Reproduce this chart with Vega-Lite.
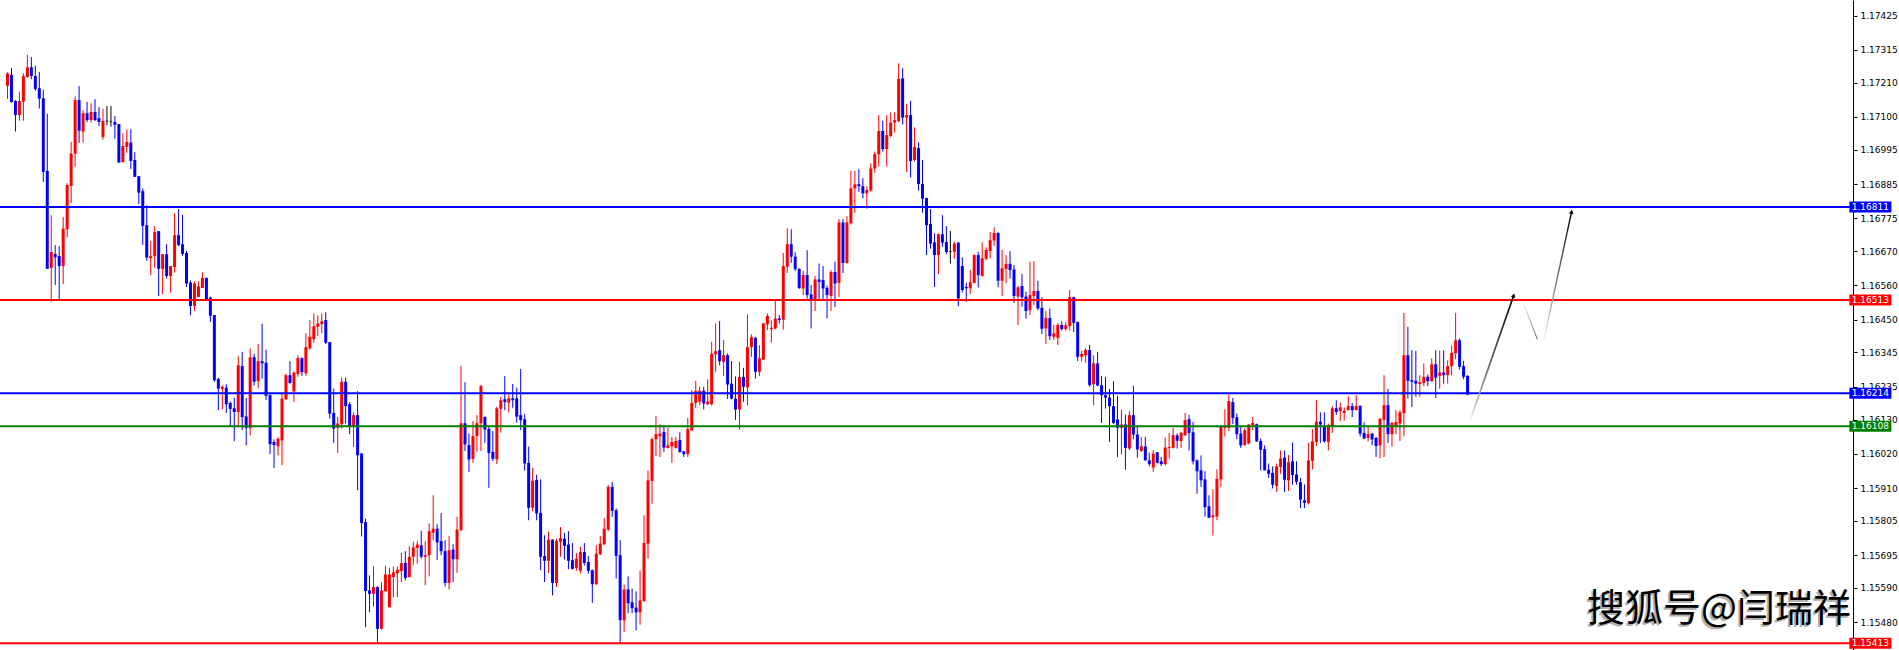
{
  "$schema": "https://vega.github.io/schema/vega-lite/v6.json",
  "width": 1853,
  "height": 650,
  "autosize": {"type": "none"},
  "padding": {"left": 0, "right": 46, "top": 0, "bottom": 0},
  "background": "#ffffff",
  "config": {"view": {"stroke": null}},
  "resolve": {"axis": {"y": "independent", "x": "independent"}},
  "datasets": {
    "candles": [
      {"k":0,"o":1.17200,"h":1.17243,"l":1.17158,"c":1.17240},
      {"k":1,"o":1.17235,"h":1.17257,"l":1.17146,"c":1.17148},
      {"k":2,"o":1.17151,"h":1.17154,"l":1.17053,"c":1.17106},
      {"k":3,"o":1.17106,"h":1.17181,"l":1.17088,"c":1.17151},
      {"k":4,"o":1.17149,"h":1.17240,"l":1.17088,"c":1.17231},
      {"k":5,"o":1.17228,"h":1.17299,"l":1.17226,"c":1.17259},
      {"k":6,"o":1.17259,"h":1.17292,"l":1.17221,"c":1.17231},
      {"k":7,"o":1.17231,"h":1.17264,"l":1.17184,"c":1.17190},
      {"k":8,"o":1.17192,"h":1.17244,"l":1.17127,"c":1.17159},
      {"k":9,"o":1.17160,"h":1.17187,"l":1.16892,"c":1.16924},
      {"k":10,"o":1.16927,"h":1.17110,"l":1.16613,"c":1.16613},
      {"k":11,"o":1.16616,"h":1.16785,"l":1.16507,"c":1.16667},
      {"k":12,"o":1.16660,"h":1.16689,"l":1.16561,"c":1.16650},
      {"k":13,"o":1.16654,"h":1.16686,"l":1.16515,"c":1.16622},
      {"k":14,"o":1.16622,"h":1.16779,"l":1.16564,"c":1.16742},
      {"k":15,"o":1.16740,"h":1.16888,"l":1.16714,"c":1.16882},
      {"k":16,"o":1.16879,"h":1.17020,"l":1.16824,"c":1.16983},
      {"k":17,"o":1.16982,"h":1.17166,"l":1.16940,"c":1.17154},
      {"k":18,"o":1.17154,"h":1.17199,"l":1.17017,"c":1.17056},
      {"k":19,"o":1.17053,"h":1.17122,"l":1.17017,"c":1.17112},
      {"k":20,"o":1.17112,"h":1.17148,"l":1.17084,"c":1.17090},
      {"k":21,"o":1.17090,"h":1.17144,"l":1.17082,"c":1.17116},
      {"k":22,"o":1.17116,"h":1.17157,"l":1.17087,"c":1.17090},
      {"k":23,"o":1.17096,"h":1.17132,"l":1.17071,"c":1.17084},
      {"k":24,"o":1.17036,"h":1.17126,"l":1.17027,"c":1.17087},
      {"k":25,"o":1.17088,"h":1.17135,"l":1.17073,"c":1.17086,"doji":true},
      {"k":26,"o":1.17087,"h":1.17135,"l":1.17069,"c":1.17085,"doji":true},
      {"k":27,"o":1.17084,"h":1.17103,"l":1.17030,"c":1.17075},
      {"k":28,"o":1.17077,"h":1.17077,"l":1.16952,"c":1.16954},
      {"k":29,"o":1.16955,"h":1.17048,"l":1.16955,"c":1.17007},
      {"k":30,"o":1.17004,"h":1.17060,"l":1.16985,"c":1.17020},
      {"k":31,"o":1.17018,"h":1.17061,"l":1.16933,"c":1.16959},
      {"k":32,"o":1.16962,"h":1.16987,"l":1.16908,"c":1.16908},
      {"k":33,"o":1.16910,"h":1.16910,"l":1.16821,"c":1.16857},
      {"k":34,"o":1.16862,"h":1.16871,"l":1.16690,"c":1.16751},
      {"k":35,"o":1.16753,"h":1.16817,"l":1.16639,"c":1.16649},
      {"k":36,"o":1.16647,"h":1.16702,"l":1.16593,"c":1.16654},
      {"k":37,"o":1.16654,"h":1.16750,"l":1.16616,"c":1.16731},
      {"k":38,"o":1.16734,"h":1.16734,"l":1.16526,"c":1.16613},
      {"k":39,"o":1.16613,"h":1.16660,"l":1.16531,"c":1.16660},
      {"k":40,"o":1.16660,"h":1.16692,"l":1.16582,"c":1.16590},
      {"k":41,"o":1.16590,"h":1.16622,"l":1.16536,"c":1.16622},
      {"k":42,"o":1.16619,"h":1.16791,"l":1.16601,"c":1.16721},
      {"k":43,"o":1.16721,"h":1.16805,"l":1.16686,"c":1.16689},
      {"k":44,"o":1.16692,"h":1.16786,"l":1.16655,"c":1.16661},
      {"k":45,"o":1.16664,"h":1.16671,"l":1.16555,"c":1.16566},
      {"k":46,"o":1.16569,"h":1.16575,"l":1.16464,"c":1.16494},
      {"k":47,"o":1.16494,"h":1.16573,"l":1.16478,"c":1.16566},
      {"k":48,"o":1.16523,"h":1.16573,"l":1.16522,"c":1.16557},
      {"k":49,"o":1.16552,"h":1.16602,"l":1.16551,"c":1.16584},
      {"k":50,"o":1.16584,"h":1.16585,"l":1.16512,"c":1.16515},
      {"k":51,"o":1.16521,"h":1.16524,"l":1.16443,"c":1.16463},
      {"k":52,"o":1.16465,"h":1.16465,"l":1.16251,"c":1.16256},
      {"k":53,"o":1.16260,"h":1.16264,"l":1.16160,"c":1.16229},
      {"k":54,"o":1.16228,"h":1.16240,"l":1.16163,"c":1.16235},
      {"k":55,"o":1.16232,"h":1.16243,"l":1.16151,"c":1.16179},
      {"k":56,"o":1.16183,"h":1.16188,"l":1.16109,"c":1.16164},
      {"k":57,"o":1.16166,"h":1.16200,"l":1.16060,"c":1.16154},
      {"k":58,"o":1.16154,"h":1.16333,"l":1.16109,"c":1.16304},
      {"k":59,"o":1.16301,"h":1.16347,"l":1.16096,"c":1.16138},
      {"k":60,"o":1.16140,"h":1.16199,"l":1.16047,"c":1.16103},
      {"k":61,"o":1.16103,"h":1.16358,"l":1.16079,"c":1.16329},
      {"k":62,"o":1.16330,"h":1.16341,"l":1.16239,"c":1.16251},
      {"k":63,"o":1.16253,"h":1.16372,"l":1.16230,"c":1.16317},
      {"k":64,"o":1.16317,"h":1.16437,"l":1.16261,"c":1.16310},
      {"k":65,"o":1.16312,"h":1.16354,"l":1.16192,"c":1.16206},
      {"k":66,"o":1.16208,"h":1.16213,"l":1.16019,"c":1.16051},
      {"k":67,"o":1.16058,"h":1.16066,"l":1.15975,"c":1.16048},
      {"k":68,"o":1.16044,"h":1.16073,"l":1.16015,"c":1.16068},
      {"k":69,"o":1.16063,"h":1.16213,"l":1.15983,"c":1.16197},
      {"k":70,"o":1.16195,"h":1.16277,"l":1.16192,"c":1.16272},
      {"k":71,"o":1.16272,"h":1.16317,"l":1.16245,"c":1.16247},
      {"k":72,"o":1.16220,"h":1.16284,"l":1.16186,"c":1.16280},
      {"k":73,"o":1.16276,"h":1.16336,"l":1.16267,"c":1.16327},
      {"k":74,"o":1.16327,"h":1.16329,"l":1.16270,"c":1.16282},
      {"k":75,"o":1.16278,"h":1.16406,"l":1.16270,"c":1.16362},
      {"k":76,"o":1.16358,"h":1.16449,"l":1.16354,"c":1.16395},
      {"k":77,"o":1.16388,"h":1.16470,"l":1.16376,"c":1.16429},
      {"k":78,"o":1.16427,"h":1.16464,"l":1.16397,"c":1.16438},
      {"k":79,"o":1.16436,"h":1.16470,"l":1.16406,"c":1.16445},
      {"k":80,"o":1.16449,"h":1.16474,"l":1.16372,"c":1.16376},
      {"k":81,"o":1.16378,"h":1.16378,"l":1.16133,"c":1.16149},
      {"k":82,"o":1.16151,"h":1.16229,"l":1.16055,"c":1.16101},
      {"k":83,"o":1.16104,"h":1.16138,"l":1.16023,"c":1.16117},
      {"k":84,"o":1.16115,"h":1.16265,"l":1.16101,"c":1.16251},
      {"k":85,"o":1.16251,"h":1.16265,"l":1.16117,"c":1.16173},
      {"k":86,"o":1.16179,"h":1.16186,"l":1.16083,"c":1.16108},
      {"k":87,"o":1.16106,"h":1.16153,"l":1.16042,"c":1.16144},
      {"k":88,"o":1.16144,"h":1.16221,"l":1.15903,"c":1.16015},
      {"k":89,"o":1.16021,"h":1.16023,"l":1.15755,"c":1.15798},
      {"k":90,"o":1.15801,"h":1.15812,"l":1.15464,"c":1.15580},
      {"k":91,"o":1.15582,"h":1.15630,"l":1.15512,"c":1.15571},
      {"k":92,"o":1.15571,"h":1.15659,"l":1.15530,"c":1.15593},
      {"k":93,"o":1.15593,"h":1.15595,"l":1.15416,"c":1.15459},
      {"k":94,"o":1.15459,"h":1.15609,"l":1.15456,"c":1.15582},
      {"k":95,"o":1.15579,"h":1.15661,"l":1.15579,"c":1.15633},
      {"k":96,"o":1.15528,"h":1.15655,"l":1.15528,"c":1.15633},
      {"k":97,"o":1.15625,"h":1.15659,"l":1.15560,"c":1.15640},
      {"k":98,"o":1.15637,"h":1.15659,"l":1.15560,"c":1.15648},
      {"k":99,"o":1.15644,"h":1.15702,"l":1.15609,"c":1.15669},
      {"k":100,"o":1.15670,"h":1.15708,"l":1.15614,"c":1.15622},
      {"k":101,"o":1.15625,"h":1.15724,"l":1.15623,"c":1.15690},
      {"k":102,"o":1.15690,"h":1.15738,"l":1.15663,"c":1.15720},
      {"k":103,"o":1.15718,"h":1.15740,"l":1.15668,"c":1.15729},
      {"k":104,"o":1.15727,"h":1.15773,"l":1.15684,"c":1.15690},
      {"k":105,"o":1.15690,"h":1.15740,"l":1.15599,"c":1.15695},
      {"k":106,"o":1.15695,"h":1.15797,"l":1.15627,"c":1.15772},
      {"k":107,"o":1.15767,"h":1.15887,"l":1.15743,"c":1.15780},
      {"k":108,"o":1.15780,"h":1.15794,"l":1.15679,"c":1.15736},
      {"k":109,"o":1.15740,"h":1.15830,"l":1.15695,"c":1.15708},
      {"k":110,"o":1.15708,"h":1.15743,"l":1.15595,"c":1.15606},
      {"k":111,"o":1.15606,"h":1.15756,"l":1.15585,"c":1.15711},
      {"k":112,"o":1.15713,"h":1.15730,"l":1.15609,"c":1.15682},
      {"k":113,"o":1.15682,"h":1.15818,"l":1.15638,"c":1.15777},
      {"k":114,"o":1.15775,"h":1.16302,"l":1.15772,"c":1.16118},
      {"k":115,"o":1.16118,"h":1.16250,"l":1.16029,"c":1.16050},
      {"k":116,"o":1.16048,"h":1.16085,"l":1.15962,"c":1.16002},
      {"k":117,"o":1.16004,"h":1.16125,"l":1.15991,"c":1.16077},
      {"k":118,"o":1.16077,"h":1.16144,"l":1.16027,"c":1.16118},
      {"k":119,"o":1.16118,"h":1.16241,"l":1.16029,"c":1.16237},
      {"k":120,"o":1.16138,"h":1.16140,"l":1.16055,"c":1.16098},
      {"k":121,"o":1.16100,"h":1.16109,"l":1.15911,"c":1.16023},
      {"k":122,"o":1.16026,"h":1.16093,"l":1.15997,"c":1.16004},
      {"k":123,"o":1.16002,"h":1.16171,"l":1.15987,"c":1.16166},
      {"k":124,"o":1.16164,"h":1.16202,"l":1.16088,"c":1.16192},
      {"k":125,"o":1.16195,"h":1.16269,"l":1.16160,"c":1.16186},
      {"k":126,"o":1.16184,"h":1.16214,"l":1.16152,"c":1.16198},
      {"k":127,"o":1.16198,"h":1.16244,"l":1.16168,"c":1.16192},
      {"k":128,"o":1.16198,"h":1.16232,"l":1.16120,"c":1.16139},
      {"k":129,"o":1.16144,"h":1.16292,"l":1.16096,"c":1.16128},
      {"k":130,"o":1.16131,"h":1.16148,"l":1.15966,"c":1.15989},
      {"k":131,"o":1.15991,"h":1.16043,"l":1.15807,"c":1.15847},
      {"k":132,"o":1.15847,"h":1.15975,"l":1.15836,"c":1.15934},
      {"k":133,"o":1.15936,"h":1.15953,"l":1.15807,"c":1.15829},
      {"k":134,"o":1.15831,"h":1.15938,"l":1.15647,"c":1.15690},
      {"k":135,"o":1.15692,"h":1.15759,"l":1.15609,"c":1.15677},
      {"k":136,"o":1.15677,"h":1.15770,"l":1.15638,"c":1.15745},
      {"k":137,"o":1.15745,"h":1.15746,"l":1.15566,"c":1.15606},
      {"k":138,"o":1.15606,"h":1.15748,"l":1.15593,"c":1.15741},
      {"k":139,"o":1.15738,"h":1.15785,"l":1.15690,"c":1.15750},
      {"k":140,"o":1.15748,"h":1.15767,"l":1.15681,"c":1.15725},
      {"k":141,"o":1.15729,"h":1.15772,"l":1.15650,"c":1.15677},
      {"k":142,"o":1.15679,"h":1.15734,"l":1.15649,"c":1.15651},
      {"k":143,"o":1.15654,"h":1.15702,"l":1.15645,"c":1.15684},
      {"k":144,"o":1.15645,"h":1.15722,"l":1.15636,"c":1.15705},
      {"k":145,"o":1.15705,"h":1.15734,"l":1.15662,"c":1.15670},
      {"k":146,"o":1.15673,"h":1.15692,"l":1.15636,"c":1.15645},
      {"k":147,"o":1.15647,"h":1.15649,"l":1.15542,"c":1.15602},
      {"k":148,"o":1.15602,"h":1.15727,"l":1.15599,"c":1.15700},
      {"k":149,"o":1.15698,"h":1.15756,"l":1.15695,"c":1.15732},
      {"k":150,"o":1.15730,"h":1.15814,"l":1.15727,"c":1.15780},
      {"k":151,"o":1.15777,"h":1.15920,"l":1.15772,"c":1.15914},
      {"k":152,"o":1.15914,"h":1.15930,"l":1.15818,"c":1.15837},
      {"k":153,"o":1.15839,"h":1.15845,"l":1.15620,"c":1.15693},
      {"k":154,"o":1.15695,"h":1.15743,"l":1.15416,"c":1.15487},
      {"k":155,"o":1.15486,"h":1.15601,"l":1.15448,"c":1.15585},
      {"k":156,"o":1.15585,"h":1.15627,"l":1.15509,"c":1.15541},
      {"k":157,"o":1.15544,"h":1.15588,"l":1.15509,"c":1.15525},
      {"k":158,"o":1.15527,"h":1.15579,"l":1.15454,"c":1.15512},
      {"k":159,"o":1.15512,"h":1.15646,"l":1.15472,"c":1.15550},
      {"k":160,"o":1.15548,"h":1.15823,"l":1.15545,"c":1.15734},
      {"k":161,"o":1.15732,"h":1.15967,"l":1.15684,"c":1.15935},
      {"k":162,"o":1.15933,"h":1.16072,"l":1.15860,"c":1.16067},
      {"k":163,"o":1.16067,"h":1.16141,"l":1.16012,"c":1.16083},
      {"k":164,"o":1.16076,"h":1.16115,"l":1.16010,"c":1.16085},
      {"k":165,"o":1.16090,"h":1.16112,"l":1.16026,"c":1.16040},
      {"k":166,"o":1.16039,"h":1.16104,"l":1.16037,"c":1.16047},
      {"k":167,"o":1.16044,"h":1.16074,"l":1.15991,"c":1.16058},
      {"k":168,"o":1.16039,"h":1.16074,"l":1.16037,"c":1.16061},
      {"k":169,"o":1.16064,"h":1.16089,"l":1.16023,"c":1.16026},
      {"k":170,"o":1.16028,"h":1.16029,"l":1.16010,"c":1.16019},
      {"k":171,"o":1.16019,"h":1.16135,"l":1.16010,"c":1.16099},
      {"k":172,"o":1.16095,"h":1.16224,"l":1.16092,"c":1.16183},
      {"k":173,"o":1.16183,"h":1.16254,"l":1.16167,"c":1.16221},
      {"k":174,"o":1.16187,"h":1.16235,"l":1.16176,"c":1.16222},
      {"k":175,"o":1.16222,"h":1.16235,"l":1.16162,"c":1.16181},
      {"k":176,"o":1.16179,"h":1.16259,"l":1.16176,"c":1.16187},
      {"k":177,"o":1.16179,"h":1.16379,"l":1.16175,"c":1.16341},
      {"k":178,"o":1.16339,"h":1.16438,"l":1.16283,"c":1.16349},
      {"k":179,"o":1.16352,"h":1.16446,"l":1.16304,"c":1.16317},
      {"k":180,"o":1.16315,"h":1.16385,"l":1.16270,"c":1.16336},
      {"k":181,"o":1.16336,"h":1.16342,"l":1.16196,"c":1.16242},
      {"k":182,"o":1.16245,"h":1.16317,"l":1.16194,"c":1.16197},
      {"k":183,"o":1.16197,"h":1.16268,"l":1.16128,"c":1.16162},
      {"k":184,"o":1.16162,"h":1.16315,"l":1.16098,"c":1.16266},
      {"k":185,"o":1.16266,"h":1.16296,"l":1.16187,"c":1.16235},
      {"k":186,"o":1.16233,"h":1.16467,"l":1.16176,"c":1.16362},
      {"k":187,"o":1.16362,"h":1.16403,"l":1.16331,"c":1.16394},
      {"k":188,"o":1.16392,"h":1.16395,"l":1.16261,"c":1.16283},
      {"k":189,"o":1.16283,"h":1.16368,"l":1.16269,"c":1.16326},
      {"k":190,"o":1.16322,"h":1.16440,"l":1.16320,"c":1.16438},
      {"k":191,"o":1.16435,"h":1.16470,"l":1.16417,"c":1.16462},
      {"k":192,"o":1.16420,"h":1.16447,"l":1.16376,"c":1.16424},
      {"k":193,"o":1.16422,"h":1.16513,"l":1.16419,"c":1.16454},
      {"k":194,"o":1.16454,"h":1.16465,"l":1.16438,"c":1.16449},
      {"k":195,"o":1.16450,"h":1.16664,"l":1.16418,"c":1.16622},
      {"k":196,"o":1.16620,"h":1.16743,"l":1.16600,"c":1.16692},
      {"k":197,"o":1.16692,"h":1.16740,"l":1.16632,"c":1.16652},
      {"k":198,"o":1.16652,"h":1.16666,"l":1.16606,"c":1.16612},
      {"k":199,"o":1.16613,"h":1.16615,"l":1.16548,"c":1.16552},
      {"k":200,"o":1.16550,"h":1.16607,"l":1.16529,"c":1.16593},
      {"k":201,"o":1.16593,"h":1.16673,"l":1.16518,"c":1.16529},
      {"k":202,"o":1.16531,"h":1.16561,"l":1.16422,"c":1.16510},
      {"k":203,"o":1.16510,"h":1.16590,"l":1.16478,"c":1.16579},
      {"k":204,"o":1.16579,"h":1.16630,"l":1.16516,"c":1.16571},
      {"k":205,"o":1.16577,"h":1.16622,"l":1.16515,"c":1.16550},
      {"k":206,"o":1.16552,"h":1.16559,"l":1.16454,"c":1.16529},
      {"k":207,"o":1.16526,"h":1.16609,"l":1.16478,"c":1.16603},
      {"k":208,"o":1.16603,"h":1.16636,"l":1.16491,"c":1.16566},
      {"k":209,"o":1.16568,"h":1.16773,"l":1.16523,"c":1.16762},
      {"k":210,"o":1.16762,"h":1.16773,"l":1.16600,"c":1.16632},
      {"k":211,"o":1.16632,"h":1.16782,"l":1.16630,"c":1.16762},
      {"k":212,"o":1.16759,"h":1.16927,"l":1.16755,"c":1.16871},
      {"k":213,"o":1.16871,"h":1.16927,"l":1.16793,"c":1.16884},
      {"k":214,"o":1.16884,"h":1.16933,"l":1.16860,"c":1.16878},
      {"k":215,"o":1.16878,"h":1.16904,"l":1.16839,"c":1.16855},
      {"k":216,"o":1.16855,"h":1.16878,"l":1.16806,"c":1.16866},
      {"k":217,"o":1.16864,"h":1.16951,"l":1.16860,"c":1.16935},
      {"k":218,"o":1.16935,"h":1.16989,"l":1.16921,"c":1.16981},
      {"k":219,"o":1.16980,"h":1.17106,"l":1.16941,"c":1.17055},
      {"k":220,"o":1.17055,"h":1.17088,"l":1.16989,"c":1.16997},
      {"k":221,"o":1.16997,"h":1.17106,"l":1.16941,"c":1.17042},
      {"k":222,"o":1.17039,"h":1.17115,"l":1.17035,"c":1.17082},
      {"k":223,"o":1.17082,"h":1.17115,"l":1.17050,"c":1.17090},
      {"k":224,"o":1.17087,"h":1.17272,"l":1.17083,"c":1.17222},
      {"k":225,"o":1.17224,"h":1.17256,"l":1.17076,"c":1.17098},
      {"k":226,"o":1.17098,"h":1.17142,"l":1.16924,"c":1.17106},
      {"k":227,"o":1.17106,"h":1.17152,"l":1.16906,"c":1.16959},
      {"k":228,"o":1.16962,"h":1.17067,"l":1.16957,"c":1.17004},
      {"k":229,"o":1.17000,"h":1.17019,"l":1.16864,"c":1.16885},
      {"k":230,"o":1.16885,"h":1.16962,"l":1.16793,"c":1.16838},
      {"k":231,"o":1.16840,"h":1.16841,"l":1.16657,"c":1.16753},
      {"k":232,"o":1.16757,"h":1.16805,"l":1.16678,"c":1.16694},
      {"k":233,"o":1.16698,"h":1.16727,"l":1.16555,"c":1.16657},
      {"k":234,"o":1.16657,"h":1.16727,"l":1.16596,"c":1.16724},
      {"k":235,"o":1.16724,"h":1.16785,"l":1.16684,"c":1.16697},
      {"k":236,"o":1.16699,"h":1.16750,"l":1.16660,"c":1.16667},
      {"k":237,"o":1.16670,"h":1.16734,"l":1.16630,"c":1.16668,"doji":true},
      {"k":238,"o":1.16668,"h":1.16700,"l":1.16646,"c":1.16694},
      {"k":239,"o":1.16697,"h":1.16700,"l":1.16493,"c":1.16518},
      {"k":240,"o":1.16622,"h":1.16650,"l":1.16537,"c":1.16545},
      {"k":241,"o":1.16555,"h":1.16569,"l":1.16507,"c":1.16551},
      {"k":242,"o":1.16551,"h":1.16609,"l":1.16532,"c":1.16570},
      {"k":243,"o":1.16568,"h":1.16660,"l":1.16566,"c":1.16657},
      {"k":244,"o":1.16657,"h":1.16668,"l":1.16553,"c":1.16593},
      {"k":245,"o":1.16590,"h":1.16698,"l":1.16588,"c":1.16647},
      {"k":246,"o":1.16645,"h":1.16682,"l":1.16641,"c":1.16674},
      {"k":247,"o":1.16670,"h":1.16731,"l":1.16647,"c":1.16705},
      {"k":248,"o":1.16704,"h":1.16746,"l":1.16687,"c":1.16728},
      {"k":249,"o":1.16728,"h":1.16730,"l":1.16554,"c":1.16575},
      {"k":250,"o":1.16575,"h":1.16674,"l":1.16526,"c":1.16615},
      {"k":251,"o":1.16613,"h":1.16657,"l":1.16567,"c":1.16629},
      {"k":252,"o":1.16629,"h":1.16670,"l":1.16582,"c":1.16609},
      {"k":253,"o":1.16611,"h":1.16625,"l":1.16504,"c":1.16526},
      {"k":254,"o":1.16524,"h":1.16558,"l":1.16433,"c":1.16554},
      {"k":255,"o":1.16558,"h":1.16597,"l":1.16492,"c":1.16522},
      {"k":256,"o":1.16524,"h":1.16540,"l":1.16453,"c":1.16478},
      {"k":257,"o":1.16481,"h":1.16636,"l":1.16465,"c":1.16529},
      {"k":258,"o":1.16526,"h":1.16638,"l":1.16497,"c":1.16542},
      {"k":259,"o":1.16542,"h":1.16575,"l":1.16481,"c":1.16486},
      {"k":260,"o":1.16488,"h":1.16522,"l":1.16404,"c":1.16421},
      {"k":261,"o":1.16422,"h":1.16478,"l":1.16372,"c":1.16455},
      {"k":262,"o":1.16455,"h":1.16486,"l":1.16385,"c":1.16397},
      {"k":263,"o":1.16395,"h":1.16434,"l":1.16385,"c":1.16406},
      {"k":264,"o":1.16392,"h":1.16439,"l":1.16369,"c":1.16433},
      {"k":265,"o":1.16433,"h":1.16445,"l":1.16415,"c":1.16420},
      {"k":266,"o":1.16420,"h":1.16442,"l":1.16415,"c":1.16432},
      {"k":267,"o":1.16430,"h":1.16545,"l":1.16415,"c":1.16522},
      {"k":268,"o":1.16522,"h":1.16524,"l":1.16411,"c":1.16440},
      {"k":269,"o":1.16442,"h":1.16445,"l":1.16317,"c":1.16331},
      {"k":270,"o":1.16331,"h":1.16350,"l":1.16316,"c":1.16340},
      {"k":271,"o":1.16336,"h":1.16358,"l":1.16312,"c":1.16353},
      {"k":272,"o":1.16353,"h":1.16369,"l":1.16235,"c":1.16240},
      {"k":273,"o":1.16243,"h":1.16336,"l":1.16176,"c":1.16310},
      {"k":274,"o":1.16310,"h":1.16346,"l":1.16237,"c":1.16239},
      {"k":275,"o":1.16240,"h":1.16269,"l":1.16119,"c":1.16208},
      {"k":276,"o":1.16208,"h":1.16267,"l":1.16165,"c":1.16200},
      {"k":277,"o":1.16200,"h":1.16228,"l":1.16058,"c":1.16173},
      {"k":278,"o":1.16173,"h":1.16253,"l":1.16115,"c":1.16119},
      {"k":279,"o":1.16130,"h":1.16206,"l":1.16010,"c":1.16103},
      {"k":280,"o":1.16103,"h":1.16162,"l":1.16018,"c":1.16114},
      {"k":281,"o":1.16114,"h":1.16146,"l":1.15969,"c":1.16039},
      {"k":282,"o":1.16037,"h":1.16157,"l":1.16032,"c":1.16144},
      {"k":283,"o":1.16144,"h":1.16238,"l":1.16067,"c":1.16082},
      {"k":284,"o":1.16082,"h":1.16106,"l":1.16008,"c":1.16034},
      {"k":285,"o":1.16029,"h":1.16074,"l":1.16026,"c":1.16044},
      {"k":286,"o":1.16044,"h":1.16074,"l":1.15998,"c":1.15999},
      {"k":287,"o":1.15999,"h":1.16023,"l":1.15980,"c":1.15987},
      {"k":288,"o":1.15976,"h":1.16032,"l":1.15962,"c":1.16021},
      {"k":289,"o":1.16025,"h":1.16026,"l":1.15989,"c":1.15991},
      {"k":290,"o":1.15996,"h":1.16010,"l":1.15981,"c":1.15987},
      {"k":291,"o":1.15987,"h":1.16072,"l":1.15983,"c":1.16040},
      {"k":292,"o":1.16039,"h":1.16087,"l":1.16005,"c":1.16042},
      {"k":293,"o":1.16039,"h":1.16103,"l":1.16037,"c":1.16080},
      {"k":294,"o":1.16079,"h":1.16085,"l":1.16037,"c":1.16062},
      {"k":295,"o":1.16061,"h":1.16090,"l":1.16039,"c":1.16087},
      {"k":296,"o":1.16079,"h":1.16151,"l":1.16079,"c":1.16128},
      {"k":297,"o":1.16131,"h":1.16144,"l":1.16031,"c":1.16087},
      {"k":298,"o":1.16089,"h":1.16122,"l":1.15986,"c":1.15996},
      {"k":299,"o":1.15999,"h":1.16002,"l":1.15892,"c":1.15964},
      {"k":300,"o":1.15967,"h":1.16015,"l":1.15914,"c":1.15935},
      {"k":301,"o":1.15938,"h":1.15964,"l":1.15819,"c":1.15849},
      {"k":302,"o":1.15852,"h":1.15887,"l":1.15814,"c":1.15815},
      {"k":303,"o":1.15817,"h":1.15906,"l":1.15758,"c":1.15823},
      {"k":304,"o":1.15819,"h":1.15970,"l":1.15807,"c":1.15940},
      {"k":305,"o":1.15938,"h":1.16108,"l":1.15914,"c":1.16106},
      {"k":306,"o":1.16103,"h":1.16163,"l":1.16076,"c":1.16108},
      {"k":307,"o":1.16103,"h":1.16213,"l":1.16093,"c":1.16189},
      {"k":308,"o":1.16186,"h":1.16199,"l":1.16115,"c":1.16135},
      {"k":309,"o":1.16137,"h":1.16149,"l":1.16067,"c":1.16083},
      {"k":310,"o":1.16085,"h":1.16106,"l":1.16039,"c":1.16047},
      {"k":311,"o":1.16048,"h":1.16102,"l":1.16046,"c":1.16096},
      {"k":312,"o":1.16053,"h":1.16115,"l":1.16051,"c":1.16114},
      {"k":313,"o":1.16112,"h":1.16138,"l":1.16096,"c":1.16119},
      {"k":314,"o":1.16115,"h":1.16117,"l":1.16058,"c":1.16060},
      {"k":315,"o":1.16061,"h":1.16069,"l":1.15967,"c":1.16033},
      {"k":316,"o":1.16035,"h":1.16047,"l":1.15967,"c":1.15967},
      {"k":317,"o":1.15969,"h":1.15989,"l":1.15943,"c":1.15956},
      {"k":318,"o":1.15959,"h":1.15980,"l":1.15909,"c":1.15921},
      {"k":319,"o":1.15917,"h":1.15989,"l":1.15898,"c":1.15980},
      {"k":320,"o":1.15978,"h":1.16031,"l":1.15956,"c":1.16005},
      {"k":321,"o":1.16008,"h":1.16031,"l":1.15898,"c":1.15937},
      {"k":322,"o":1.15935,"h":1.16016,"l":1.15901,"c":1.15993},
      {"k":323,"o":1.15996,"h":1.16056,"l":1.15921,"c":1.15952},
      {"k":324,"o":1.15954,"h":1.15996,"l":1.15921,"c":1.15930},
      {"k":325,"o":1.15929,"h":1.15943,"l":1.15846,"c":1.15873},
      {"k":326,"o":1.15871,"h":1.15922,"l":1.15846,"c":1.15863},
      {"k":327,"o":1.15862,"h":1.16055,"l":1.15857,"c":1.15999},
      {"k":328,"o":1.15997,"h":1.16099,"l":1.15970,"c":1.16060},
      {"k":329,"o":1.16058,"h":1.16192,"l":1.16045,"c":1.16123},
      {"k":330,"o":1.16123,"h":1.16153,"l":1.16055,"c":1.16114},
      {"k":331,"o":1.16106,"h":1.16153,"l":1.16055,"c":1.16060},
      {"k":332,"o":1.16058,"h":1.16117,"l":1.16031,"c":1.16106},
      {"k":333,"o":1.16106,"h":1.16173,"l":1.16087,"c":1.16166},
      {"k":334,"o":1.16166,"h":1.16192,"l":1.16145,"c":1.16154},
      {"k":335,"o":1.16157,"h":1.16185,"l":1.16126,"c":1.16169},
      {"k":336,"o":1.16151,"h":1.16169,"l":1.16126,"c":1.16158},
      {"k":337,"o":1.16160,"h":1.16205,"l":1.16160,"c":1.16173},
      {"k":338,"o":1.16173,"h":1.16183,"l":1.16138,"c":1.16160},
      {"k":339,"o":1.16160,"h":1.16208,"l":1.16160,"c":1.16173},
      {"k":340,"o":1.16174,"h":1.16175,"l":1.16076,"c":1.16085},
      {"k":341,"o":1.16087,"h":1.16121,"l":1.16067,"c":1.16069},
      {"k":342,"o":1.16071,"h":1.16106,"l":1.16060,"c":1.16083},
      {"k":343,"o":1.16085,"h":1.16087,"l":1.16047,"c":1.16066},
      {"k":344,"o":1.16071,"h":1.16074,"l":1.16010,"c":1.16045},
      {"k":345,"o":1.16047,"h":1.16135,"l":1.16005,"c":1.16132},
      {"k":346,"o":1.16129,"h":1.16272,"l":1.16010,"c":1.16176},
      {"k":347,"o":1.16176,"h":1.16228,"l":1.16055,"c":1.16083},
      {"k":348,"o":1.16083,"h":1.16122,"l":1.16044,"c":1.16119},
      {"k":349,"o":1.16106,"h":1.16160,"l":1.16083,"c":1.16122},
      {"k":350,"o":1.16117,"h":1.16160,"l":1.16061,"c":1.16153},
      {"k":351,"o":1.16151,"h":1.16472,"l":1.16076,"c":1.16336},
      {"k":352,"o":1.16336,"h":1.16427,"l":1.16197,"c":1.16254},
      {"k":353,"o":1.16256,"h":1.16352,"l":1.16170,"c":1.16251},
      {"k":354,"o":1.16254,"h":1.16350,"l":1.16203,"c":1.16245},
      {"k":355,"o":1.16244,"h":1.16272,"l":1.16203,"c":1.16250},
      {"k":356,"o":1.16247,"h":1.16310,"l":1.16237,"c":1.16267},
      {"k":357,"o":1.16267,"h":1.16274,"l":1.16237,"c":1.16253},
      {"k":358,"o":1.16253,"h":1.16326,"l":1.16251,"c":1.16307},
      {"k":359,"o":1.16307,"h":1.16352,"l":1.16199,"c":1.16264},
      {"k":360,"o":1.16270,"h":1.16350,"l":1.16229,"c":1.16281},
      {"k":361,"o":1.16281,"h":1.16352,"l":1.16245,"c":1.16272},
      {"k":362,"o":1.16272,"h":1.16320,"l":1.16245,"c":1.16301},
      {"k":363,"o":1.16301,"h":1.16368,"l":1.16272,"c":1.16344},
      {"k":364,"o":1.16342,"h":1.16472,"l":1.16323,"c":1.16384},
      {"k":365,"o":1.16384,"h":1.16390,"l":1.16290,"c":1.16299},
      {"k":366,"o":1.16301,"h":1.16318,"l":1.16259,"c":1.16267},
      {"k":367,"o":1.16270,"h":1.16272,"l":1.16208,"c":1.16210}
    ],
    "levels": [
      {"p":1.16811},
      {"p":1.16513},
      {"p":1.16214},
      {"p":1.16108},
      {"p":1.15413}
    ]
  },
  "layer": [
    {
      "data": {"name": "candles"},
      "mark": {"type": "rule", "strokeWidth": 1},
      "encoding": {
        "x": {"field": "k", "type": "quantitative", "axis": null,
          "scale": {"domain": [-0.625, 462.625], "nice": false, "zero": false}},
        "y": {"field": "h", "type": "quantitative",
          "scale": {"domain": [1.15391, 1.17475], "nice": false, "zero": false},
          "axis": {
            "orient": "right", "title": null, "grid": false,
            "values": [1.17425, 1.17315, 1.1721, 1.171, 1.16995, 1.16885, 1.16775, 1.1667, 1.1656, 1.1645, 1.16345, 1.16235, 1.1613, 1.1602, 1.1591, 1.15805, 1.15695, 1.1559, 1.1548],
            "format": ".5f", "labelFont": "DejaVu Sans", "labelFontSize": 9, "labelColor": "#000000",
            "tickColor": "#000000", "tickSize": 4, "tickWidth": 1, "domainColor": "#000000", "domainWidth": 1,
            "labelPadding": 3, "labelOverlap": false, "labelBound": false
          }},
        "y2": {"field": "l"},
        "color": {"condition": [{"test": "datum.doji", "value": "#000000"}, {"test": "datum.c > datum.o", "value": "#FF0000"}], "value": "#0000FF"}
      }
    },
    {
      "data": {"name": "candles"},
      "mark": {"type": "bar", "size": 3},
      "encoding": {
        "x": {"field": "k", "type": "quantitative", "axis": null},
        "y": {"field": "o", "type": "quantitative", "axis": null},
        "y2": {"field": "c"},
        "color": {"condition": [{"test": "datum.doji", "value": "#000000"}, {"test": "datum.c > datum.o", "value": "#FF0000"}], "value": "#0000FF"}
      }
    },
    {
      "data": {"name": "levels"},
      "mark": {"type": "rule", "strokeWidth": 2},
      "encoding": {
        "y": {"field": "p", "type": "quantitative", "axis": null},
        "color": {"field": "p", "type": "nominal", "legend": null,
          "scale": {"domain": [1.16811, 1.16513, 1.16214, 1.16108, 1.15413], "range": ["#0000FF", "#FF0000", "#0000FF", "#008000", "#FF0000"]}}
      }
    },
    {
      "data": {"values": [{"k": 367.7, "p": 1.16129}, {"k": 378.55, "p": 1.16526}]},
      "mark": {"type": "line", "strokeWidth": 1.7,
        "color": {"gradient": "linear", "x1": 0, "y1": 1, "x2": 0, "y2": 0,
          "stops": [{"offset": 0, "color": "#f0f0f0"}, {"offset": 0.35, "color": "#777777"}, {"offset": 1, "color": "#000000"}]}},
      "encoding": {
        "x": {"field": "k", "type": "quantitative", "axis": null},
        "y": {"field": "p", "type": "quantitative", "axis": null}
      }
    },
    {
      "data": {"values": [{"k": 381.05, "p": 1.16503}, {"k": 384.55, "p": 1.16387}]},
      "mark": {"type": "line", "strokeWidth": 1,
        "color": {"gradient": "linear", "x1": 0, "y1": 0, "x2": 0, "y2": 1,
          "stops": [{"offset": 0, "color": "#f4f4f4"}, {"offset": 1, "color": "#555555"}]}},
      "encoding": {
        "x": {"field": "k", "type": "quantitative", "axis": null},
        "y": {"field": "p", "type": "quantitative", "axis": null}
      }
    },
    {
      "data": {"values": [{"k": 386.2, "p": 1.16387}, {"k": 393.1, "p": 1.16793}]},
      "mark": {"type": "line", "strokeWidth": 1.4,
        "color": {"gradient": "linear", "x1": 0, "y1": 1, "x2": 0, "y2": 0,
          "stops": [{"offset": 0, "color": "#f4f4f4"}, {"offset": 0.4, "color": "#888888"}, {"offset": 1, "color": "#000000"}]}},
      "encoding": {
        "x": {"field": "k", "type": "quantitative", "axis": null},
        "y": {"field": "p", "type": "quantitative", "axis": null}
      }
    },
    {
      "data": {"values": [{"k": 378.6, "p": 1.16528, "a": 19}, {"k": 393.15, "p": 1.16796, "a": 12}]},
      "mark": {"type": "point", "shape": "triangle-up", "filled": true, "size": 22, "color": "#000000", "opacity": 1},
      "encoding": {
        "x": {"field": "k", "type": "quantitative", "axis": null},
        "y": {"field": "p", "type": "quantitative", "axis": null},
        "angle": {"field": "a", "type": "quantitative", "scale": null}
      }
    },
    {
      "data": {"name": "levels"},
      "mark": {"type": "point", "shape": "M-21,-5.5H21V5.5H-21Z", "size": 4, "filled": true, "opacity": 1, "strokeWidth": 0},
      "encoding": {
        "x": {"datum": 468.25, "axis": null},
        "y": {"field": "p", "type": "quantitative", "axis": null},
        "color": {"field": "p", "type": "nominal", "legend": null,
          "scale": {"domain": [1.16811, 1.16513, 1.16214, 1.16108, 1.15413], "range": ["#0000FF", "#FF0000", "#0000FF", "#008000", "#FF0000"]}}
      }
    },
    {
      "data": {"name": "levels"},
      "mark": {"type": "text", "font": "DejaVu Sans", "fontSize": 9, "color": "#ffffff", "align": "center", "baseline": "middle"},
      "encoding": {
        "x": {"datum": 468.25, "axis": null},
        "y": {"field": "p", "type": "quantitative", "axis": null},
        "text": {"field": "p", "type": "quantitative", "format": ".5f"}
      }
    },
    {
      "data": {"values": [{"t": "搜狐号@闫瑞祥"}]},
      "mark": {"type": "text", "font": "Noto Sans CJK SC", "fontSize": 38, "color": "#b0b0b0", "align": "center", "baseline": "middle", "dx": -2, "dy": 2},
      "encoding": {
        "x": {"datum": 430.2, "axis": null},
        "y": {"datum": 1.15519, "type": "quantitative", "axis": null},
        "text": {"field": "t"}
      }
    },
    {
      "data": {"values": [{"t": "搜狐号@闫瑞祥"}]},
      "mark": {"type": "text", "font": "Noto Sans CJK SC", "fontSize": 38, "color": "#000000", "align": "center", "baseline": "middle"},
      "encoding": {
        "x": {"datum": 430.2, "axis": null},
        "y": {"datum": 1.15519, "type": "quantitative", "axis": null},
        "text": {"field": "t"}
      }
    }
  ]
}
